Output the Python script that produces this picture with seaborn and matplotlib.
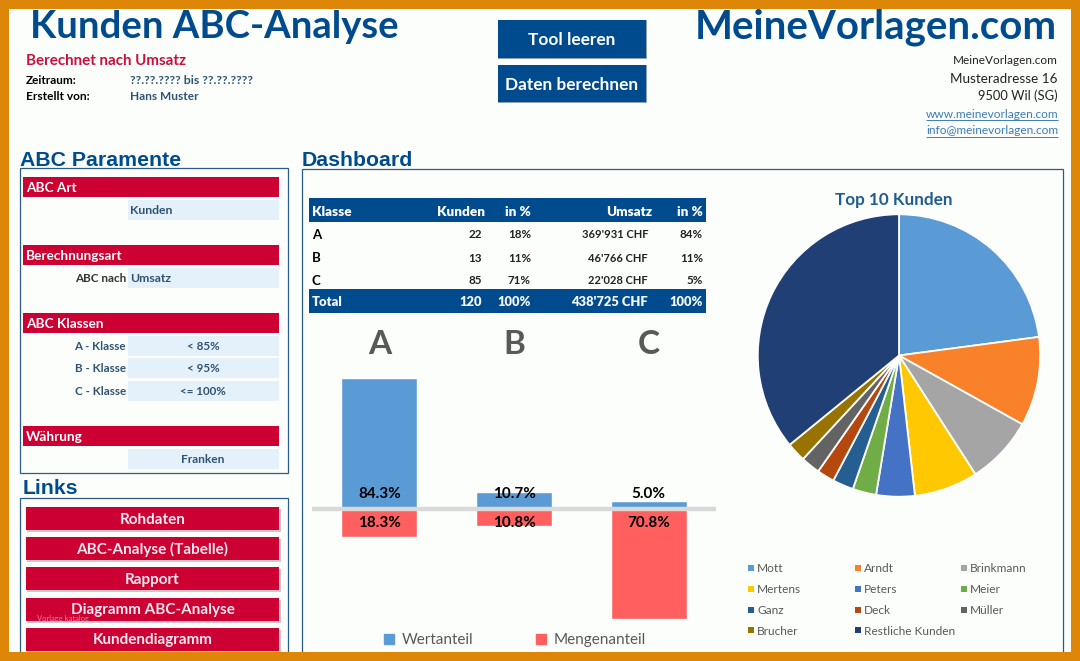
import matplotlib
matplotlib.use('Agg')
import matplotlib.pyplot as plt
from matplotlib.patches import Rectangle, Patch
import pandas as pd
import seaborn as sns

# chart data
klassen = ['A', 'B', 'C']
wertanteil = [84.3, 10.7, 5.0]
mengenanteil = [18.3, 10.8, 70.8]

kunden_namen = ['Mott', 'Arndt', 'Brinkmann', 'Mertens', 'Peters', 'Meier', 'Ganz',
                'Deck', 'Müller', 'Brucher', 'Restliche Kunden']
kunden_anteil = [22.9, 10.2, 7.8, 7.3, 4.4, 2.7, 2.4, 2.0, 2.2, 2.2, 35.9]
kunden_farben = ['#5B9BD5', '#F9812A', '#A5A5A5', '#FFC800', '#4472C4', '#70AD47',
                 '#255E91', '#B4480E', '#636363', '#997300', '#203F75']

tabelle_kopf = ['Klasse', 'Kunden', 'in %', 'Umsatz', 'in %']
tabelle_zeilen = [['A', '22', '18%', "369'931 CHF", '84%'],
                  ['B', '13', '11%', "46'766 CHF", '11%'],
                  ['C', '85', '71%', "22'028 CHF", '5%']]
tabelle_total = ['Total', '120', '100%', "438'725 CHF", '100%']

link_buttons = ['Rohdaten', 'ABC-Analyse (Tabelle)', 'Rapport', 'Diagramm ABC-Analyse', 'Kundendiagramm']

BLAU = '#004B8D'
ROT = '#CC0033'
HELL = '#E4F1FA'
ORANGE = '#DD8608'
TEXT = '#2F5373'

sns.set_theme(style='white')
plt.rcParams['font.family'] = ['Lato', 'DejaVu Sans']
W, H = 1080, 661

fig = plt.figure(figsize=(W / 100, H / 100), dpi=100, facecolor=ORANGE)

# pixel canvas for the sheet around the charts
ui = fig.add_axes([0, 0, 1, 1], zorder=0)
ui.set_xlim(0, W)
ui.set_ylim(H, 0)
ui.axis('off')


def box(x0, y0, x1, y1, color, **kw):
    ui.add_patch(Rectangle((x0, y0), x1 - x0, y1 - y0, facecolor=color, edgecolor=kw.pop('edge', 'none'), **kw))


def txt(x, y, s, size=9, color='black', weight='bold', ha='left', **kw):
    ui.text(x, y + 1, s, fontsize=size, color=color, fontweight=weight, ha=ha, va='center', **kw)


box(9, 9, 1071, 652, '#FCFEFB')

# header
txt(30, 26, 'Kunden ABC-Analyse', 27.5, BLAU)
txt(695, 26, 'MeineVorlagen.com', 29, BLAU)
txt(26, 60, 'Berechnet nach Umsatz', 10.9, '#C8103C')
txt(26, 79, 'Zeitraum:', 8.5)
txt(130, 79, '??.??.???? bis ??.??.????', 8.8, TEXT)
txt(26, 96, 'Erstellt von:', 8.6)
txt(130, 96, 'Hans Muster', 8.6, TEXT)

for y0, y1, label in [(20, 58, 'Tool leeren'), (65, 102, 'Daten berechnen')]:
    box(498, y0, 647, y1 + 1, '#8FA3B3')
    box(498, y0, 646, y1, BLAU)
    txt(572, (y0 + y1) / 2, label, 12.4, 'white', ha='center')

txt(1058, 60, 'MeineVorlagen.com', 8.5, '#222222', 'normal', ha='right')
txt(1058, 78, 'Musteradresse 16', 9.7, '#222222', 'normal', ha='right')
txt(1058, 95, '9500 Wil (SG)', 9.3, '#222222', 'normal', ha='right')
txt(1058, 113, 'www.meinevorlagen.com', 8.6, '#3B7CB8', 'normal', ha='right')
txt(1058, 130, 'info@meinevorlagen.com', 8.6, '#3B7CB8', 'normal', ha='right')
ui.hlines([120, 137], 926, 1058, color='#3B7CB8', lw=0.7)

# left panel
ui.text(20, 160, 'ABC Paramente', fontsize=15.3, fontweight='bold', color=BLAU,
        family='Liberation Sans', va='center')
ui.add_patch(Rectangle((20, 168), 268, 305, fc='none', ec='#2B5C85', lw=0.9))
for y0, label in [(177, 'ABC Art'), (245, 'Berechnungsart'), (313, 'ABC Klassen'), (426, 'Währung')]:
    box(23, y0, 279, y0 + 20, ROT)
    txt(26, y0 + 10, label, 9.8, 'white')

box(128, 200, 279, 220, HELL)
txt(130, 209.5, 'Kunden', 8.8, TEXT)
box(128, 268, 279, 288, HELL)
txt(126, 277.5, 'ABC nach', 8.4, '#333333', ha='right')
txt(130, 277.5, 'Umsatz', 8.8, TEXT)
for y0, name, grenze in [(336, 'A - Klasse', '< 85%'), (358, 'B - Klasse', '< 95%'), (381, 'C - Klasse', '<= 100%')]:
    box(128, y0, 279, y0 + 20, HELL)
    txt(126, y0 + 9.5, name, 8.4, TEXT, ha='right')
    txt(203, y0 + 9.5, grenze, 8.4, TEXT, ha='center')
box(128, 449, 279, 469, HELL)
txt(203, 458.5, 'Franken', 8.6, TEXT, ha='center')

ui.text(23, 489, 'Links', fontsize=15.3, fontweight='bold', color=BLAU, family='Liberation Sans', va='center')
ui.add_patch(Rectangle((20, 498), 268, 170, fc='none', ec='#2B5C85', lw=0.9, clip_on=True))
for i, label in enumerate(link_buttons):
    y0 = 507 + i * 30.2
    box(27, y0 + 2, 281, y0 + 25, '#D5C4CC')
    box(26, y0, 279, y0 + 23, ROT)
    txt(152.5, y0 + 11.5, label, 11, '#FBE9EE', ha='center')
txt(37, 618, 'Vorlage katalog', 5.5, '#D98A9B', 'normal')

# dashboard frame and table
ui.text(302, 161, 'Dashboard', fontsize=15.3, fontweight='bold', color=BLAU,
        family='Liberation Sans', va='center')
ui.add_patch(Rectangle((302, 169), 761, 500, fc='none', ec='#2B5C85', lw=0.9))

box(309, 198, 706, 222, BLAU)
box(309, 289, 706, 313, BLAU)
spalten_x = [312, 485, 531, 652, 703]
spalten_ha = ['left', 'right', 'right', 'right', 'right']
for x, ha, label in zip(spalten_x, spalten_ha, tabelle_kopf):
    txt(x, 211, label, 9.7, 'white', 'heavy', ha=ha)
for zeile, y in zip(tabelle_zeilen, [234, 257, 280]):
    txt(312, y, zeile[0], 9.5)
    for x, wert, dx in zip(spalten_x[1:], zeile[1:], [3, 0, 4, 0]):
        txt(x - dx, y, wert, 8.0 if 'CHF' in wert else 8.4, '#222222', ha='right')
for x, ha, wert, dx in zip(spalten_x, spalten_ha, tabelle_total, [0, 3, 0, 4, 0]):
    txt(x - dx, 301.5, wert, 9.4, '#F3F6FA', 'heavy', ha=ha)

# ABC bars, Mengenanteil hangs below the zero line
bar_df = pd.DataFrame({
    'Klasse': klassen * 2,
    'Anteil': wertanteil + [-m for m in mengenanteil],
    'Serie': ['Wertanteil'] * 3 + ['Mengenanteil'] * 3,
})
serien_farben = {'Wertanteil': '#5B9BD5', 'Mengenanteil': '#FF5F5F'}

ax_top, ax_bottom, zero_y, px_pro_prozent = 370, 630, 509, 1.55
ax = fig.add_axes([312 / W, 1 - ax_bottom / H, 404 / W, (ax_bottom - ax_top) / H], zorder=1)
ax.patch.set_alpha(0)
sns.barplot(data=bar_df, x='Klasse', y='Anteil', hue='Serie', palette=serien_farben,
            dodge=False, width=0.565, saturation=1, legend=False, ax=ax)
ax.set_ylim((zero_y - ax_bottom) / px_pro_prozent, (zero_y - ax_top) / px_pro_prozent)
ax.set_xlim(-0.5, 2.5)
ax.set_xlabel('')
ax.set_ylabel('')
ax.set_yticks([])
ax.xaxis.tick_top()
ax.tick_params(axis='x', length=0, pad=8, labelsize=24, labelcolor='#595959')
for lab in ax.get_xticklabels():
    lab.set_fontweight('bold')
sns.despine(ax=ax, left=True, bottom=True, top=True, right=True)
ax.axhline(0, color='#D9D9D9', lw=3.2, zorder=5)

for i, (w, m) in enumerate(zip(wertanteil, mengenanteil)):
    ax.annotate(f'{w:.1f}%', (i, 0), xytext=(0, 11), textcoords='offset points', ha='center', va='center',
                fontsize=11, fontweight='bold', color='black', zorder=6)
    ax.annotate(f'{m:.1f}%', (i, 0), xytext=(0, -10), textcoords='offset points', ha='center', va='center',
                fontsize=11, fontweight='bold', color='black', zorder=6)

ax.legend(handles=[Patch(color=c, label=s) for s, c in serien_farben.items()],
          loc='center', bbox_to_anchor=(515 / W, 1 - 640 / H), bbox_transform=fig.transFigure,
          ncol=2, frameon=False, fontsize=11, labelcolor='#595959',
          handlelength=0.62, handleheight=0.62, handletextpad=0.5, columnspacing=4.15)

# top 10 pie
txt(893.5, 198.5, 'Top 10 Kunden', 12.3, '#1F5C8F', ha='center')
r = 141.2
cx, cy = 899, 355.5
ax_pie = fig.add_axes([(cx - r - 1) / W, 1 - (cy + r + 1) / H, (2 * r + 2) / W, (2 * r + 2) / H], zorder=1)
ax_pie.pie(kunden_anteil, colors=kunden_farben, startangle=90, counterclock=False,
           wedgeprops={'edgecolor': 'white', 'linewidth': 1.3})
ax_pie.set_xlim(-1.007, 1.007)
ax_pie.set_ylim(-1.007, 1.007)

for i, (name, farbe) in enumerate(zip(kunden_namen, kunden_farben)):
    spalte, zeile = i % 3, i // 3
    x = 748 + spalte * 106.5
    y = 568 + zeile * 20.8
    box(x, y - 3, x + 6, y + 3, farbe)
    txt(x + 9, y, name, 8.6, '#595959', 'normal')

# the orange frame covers whatever runs off the sheet
for rect in [(0, 652, W, H - 652), (1071, 0, 9, H), (0, 0, W, 9), (0, 0, 9, H)]:
    fig.patches.append(Rectangle((rect[0] / W, 1 - (rect[1] + rect[3]) / H), rect[2] / W, rect[3] / H,
                                 transform=fig.transFigure, fc=ORANGE, ec='none', zorder=10))

fig.savefig('out.png', dpi=100, facecolor=ORANGE)
